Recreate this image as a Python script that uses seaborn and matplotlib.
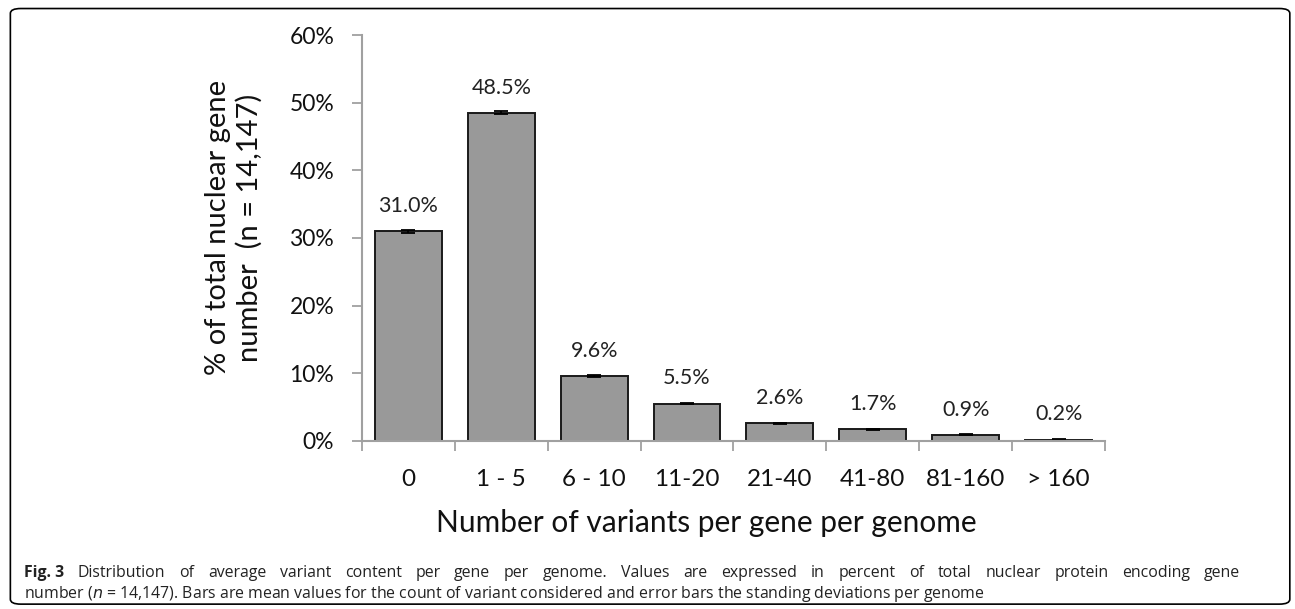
import numpy as np
import pandas as pd
import seaborn as sns
import matplotlib.pyplot as plt
from matplotlib.patches import FancyBboxPatch
from matplotlib.ticker import FixedLocator, PercentFormatter

# data
categories = ['0', '1 - 5', '6 - 10', '11-20', '21-40', '41-80', '81-160', '> 160']
mean_pct = [31.0, 48.5, 9.6, 5.5, 2.6, 1.7, 0.9, 0.2]
sd_pct = [0.25, 0.2, 0.1, 0.1, 0.08, 0.08, 0.08, 0.05]
value_labels = ['31.0%', '48.5%', '9.6%', '5.5%', '2.6%', '1.7%', '0.9%', '0.2%']

caption_line1 = ('Distribution of average variant content per gene per genome. Values are '
                 'expressed in percent of total nuclear protein encoding gene')
caption_line2 = ('number ($n$ = 14,147). Bars are mean values for the count of variant '
                 'considered and error bars the standing deviations per genome')

df = pd.DataFrame({'bin': categories, 'pct': mean_pct, 'sd': sd_pct})

sns.set_style('white')
plt.rcParams['font.family'] = ['Lato', 'DejaVu Sans']

fig = plt.figure(figsize=(12.95, 6.09), dpi=100)
ax = fig.add_axes([0.2795, 0.2759, 0.5738, 0.6666])

sns.barplot(data=df, x='bin', y='pct', color='#999999', edgecolor='#1a1a1a',
            linewidth=1.4, width=0.72, saturation=1, errorbar=None, ax=ax)
ax.errorbar(np.arange(len(categories)), df['pct'], yerr=df['sd'], fmt='none',
            ecolor='black', elinewidth=1.3, capsize=5, capthick=1.3)

for i, (v, lab) in enumerate(zip(mean_pct, value_labels)):
    ax.annotate(lab, (i, v), xytext=(0, 11), textcoords='offset points',
                ha='center', va='bottom', fontsize=15.5, color='#222222')

ax.set_xlim(-0.5, len(categories) - 0.5)
ax.set_ylim(0, 60)
ax.set_yticks(np.arange(0, 61, 10))
ax.yaxis.set_major_formatter(PercentFormatter(decimals=0))

# tick marks between categories, labels centred under bars
ax.xaxis.set_minor_locator(FixedLocator(np.arange(-0.5, len(categories), 1.0)))
ax.tick_params(axis='x', which='major', length=0, pad=20, labelsize=17.5, labelcolor='#111111')
ax.tick_params(axis='x', which='minor', length=7, width=1.3, color='#a0a0a0', bottom=True)
ax.tick_params(axis='y', which='major', length=7, width=1.3, color='#a0a0a0', left=True,
               pad=13, labelsize=16.5, labelcolor='#111111')

for side in ['top', 'right']:
    ax.spines[side].set_visible(False)
for side in ['left', 'bottom']:
    ax.spines[side].set_color('#a0a0a0')
    ax.spines[side].set_linewidth(1.5)

ax.set_xlabel('Number of variants per gene per genome', fontsize=21.5, color='#111111')
ax.xaxis.set_label_coords(0.464, -0.167)
ax.set_ylabel('% of total nuclear gene\nnumber  (n = 14,147)', fontsize=21,
              color='#111111', linespacing=1.22)
ax.yaxis.set_label_coords(-0.133, 0.525)

# caption, first line justified like the journal layout
cap_font = ['Open Sans', 'DejaVu Sans']
cap_size = 11.4
y1, y2 = 0.0525, 0.018
left_px, right_px = 24, 1240
W = fig.get_figwidth() * fig.dpi

fig.text(left_px / W, y2, caption_line2, fontsize=cap_size, ha='left', va='baseline',
         family=cap_font, color='#222222')

renderer = fig.canvas.get_renderer()
words = ['Fig. 3'] + caption_line1.split(' ')
texts = []
for k, w in enumerate(words):
    t = fig.text(0, y1, w, fontsize=cap_size, ha='left', va='baseline', family=cap_font,
                 color='#222222', fontweight='bold' if k == 0 else 'normal')
    texts.append(t)
widths = [t.get_window_extent(renderer).width for t in texts]
gap = (right_px - left_px - sum(widths)) / (len(words) - 1)
x = left_px
for t, w in zip(texts, widths):
    t.set_x(x / W)
    x += w + gap

frame = FancyBboxPatch((0.008, 0.008), 0.988, 0.978, boxstyle='round,pad=0,rounding_size=0.008',
                       transform=fig.transFigure, fill=False, edgecolor='black', linewidth=1.2)
fig.patches.append(frame)

fig.savefig('out.png', dpi=100)
